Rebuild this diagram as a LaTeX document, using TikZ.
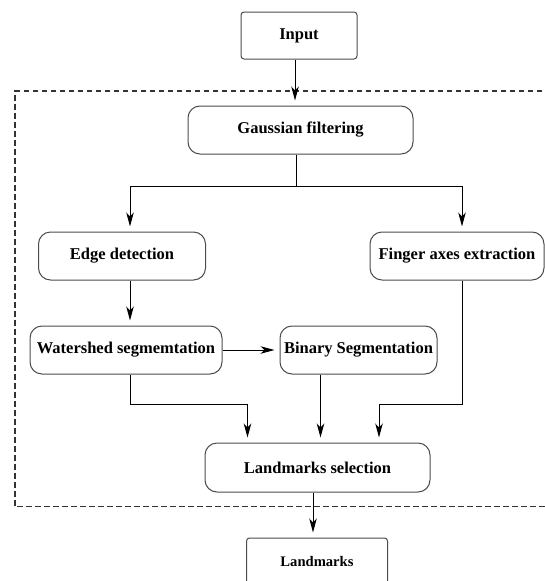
\documentclass[tikz,border=0pt]{standalone}
\usepackage{fontspec}
\setmainfont{Liberation Serif}
\usetikzlibrary{arrows.meta}
\begin{document}
\begin{tikzpicture}[x=1pt,y=-1pt,
  txt/.style={font=\bfseries\fontsize{16.5}{19}\selectfont, text=black, inner sep=0pt, align=center},
  stage/.style={txt, draw=black!70, line width=1pt, rounded corners=12pt, minimum height=48pt},
  iobox/.style={txt, draw=black!70, line width=1pt, rounded corners=3pt},
  arr/.style={-{Stealth[length=14pt,width=7.5pt,inset=4pt]}, line width=1pt, shorten >=5pt},
  link/.style={line width=1pt},
  frame/.style={draw=black!80, line width=1.1pt, dash pattern=on 5.5pt off 3.5pt}]
\useasboundingbox (0,0) rectangle (545,581);

% processing frame (open on the right)
\draw[frame] (560,91) -- (15,91) -- (15,506.7) -- (560,506.7);

% blocks
\node[iobox, minimum width=116pt, minimum height=47pt] (in) at (299,35.5) {Input};
\node[stage, minimum width=225pt] (gauss) at (300.5,130) {Gaussian filtering};
\node[stage, minimum width=167pt] (edge) at (122,256) {Edge detection};
\node[stage, minimum width=174pt] (finger) at (457,256) {Finger axes extraction};
\node[stage, minimum width=192pt] (ws) at (126,350) {Watershed segmemtation};
\node[stage, minimum width=157pt] (bin) at (358.5,350) {Binary Segmentation};
\node[stage, minimum width=225pt, minimum height=49pt] (sel) at (317.5,467.5) {Landmarks selection};
\node[iobox, minimum width=141pt, minimum height=46pt, font=\bfseries\fontsize{14.6}{17}\selectfont] (lm) at (317,561) {Landmarks};

% branch and merge points
\coordinate (split) at (296,186);
\coordinate (cL) at (130,186);
\coordinate (cR) at (462,186);
\coordinate (mL) at (247.5,404);
\coordinate (mC) at (320.5,404);
\coordinate (mR) at (379,404);

% connectors
\draw[arr] ([xshift=-4pt]in.south) -- ([xshift=-4pt]in.south |- gauss.north);
\draw[link] (gauss.south -| split) -- (split);
\draw[arr] (split) -| (cL |- edge.north);
\draw[arr] (split) -| (cR |- finger.north);
\draw[arr] (edge.south -| cL) -- (ws.north -| cL);
\draw[arr] (ws.east) -- (bin.west);
\draw[arr] (ws.south -| cL) |- (mL) -- (mL |- sel.north);
\draw[arr] (bin.south -| mC) -- (mC |- sel.north);
\draw[arr] (finger.south -| cR) |- (mR) -- (mR |- sel.north);
\draw[arr] ([xshift=-4.5pt]sel.south) -- ([xshift=-4.5pt]sel.south |- lm.north);
\end{tikzpicture}
\end{document}
